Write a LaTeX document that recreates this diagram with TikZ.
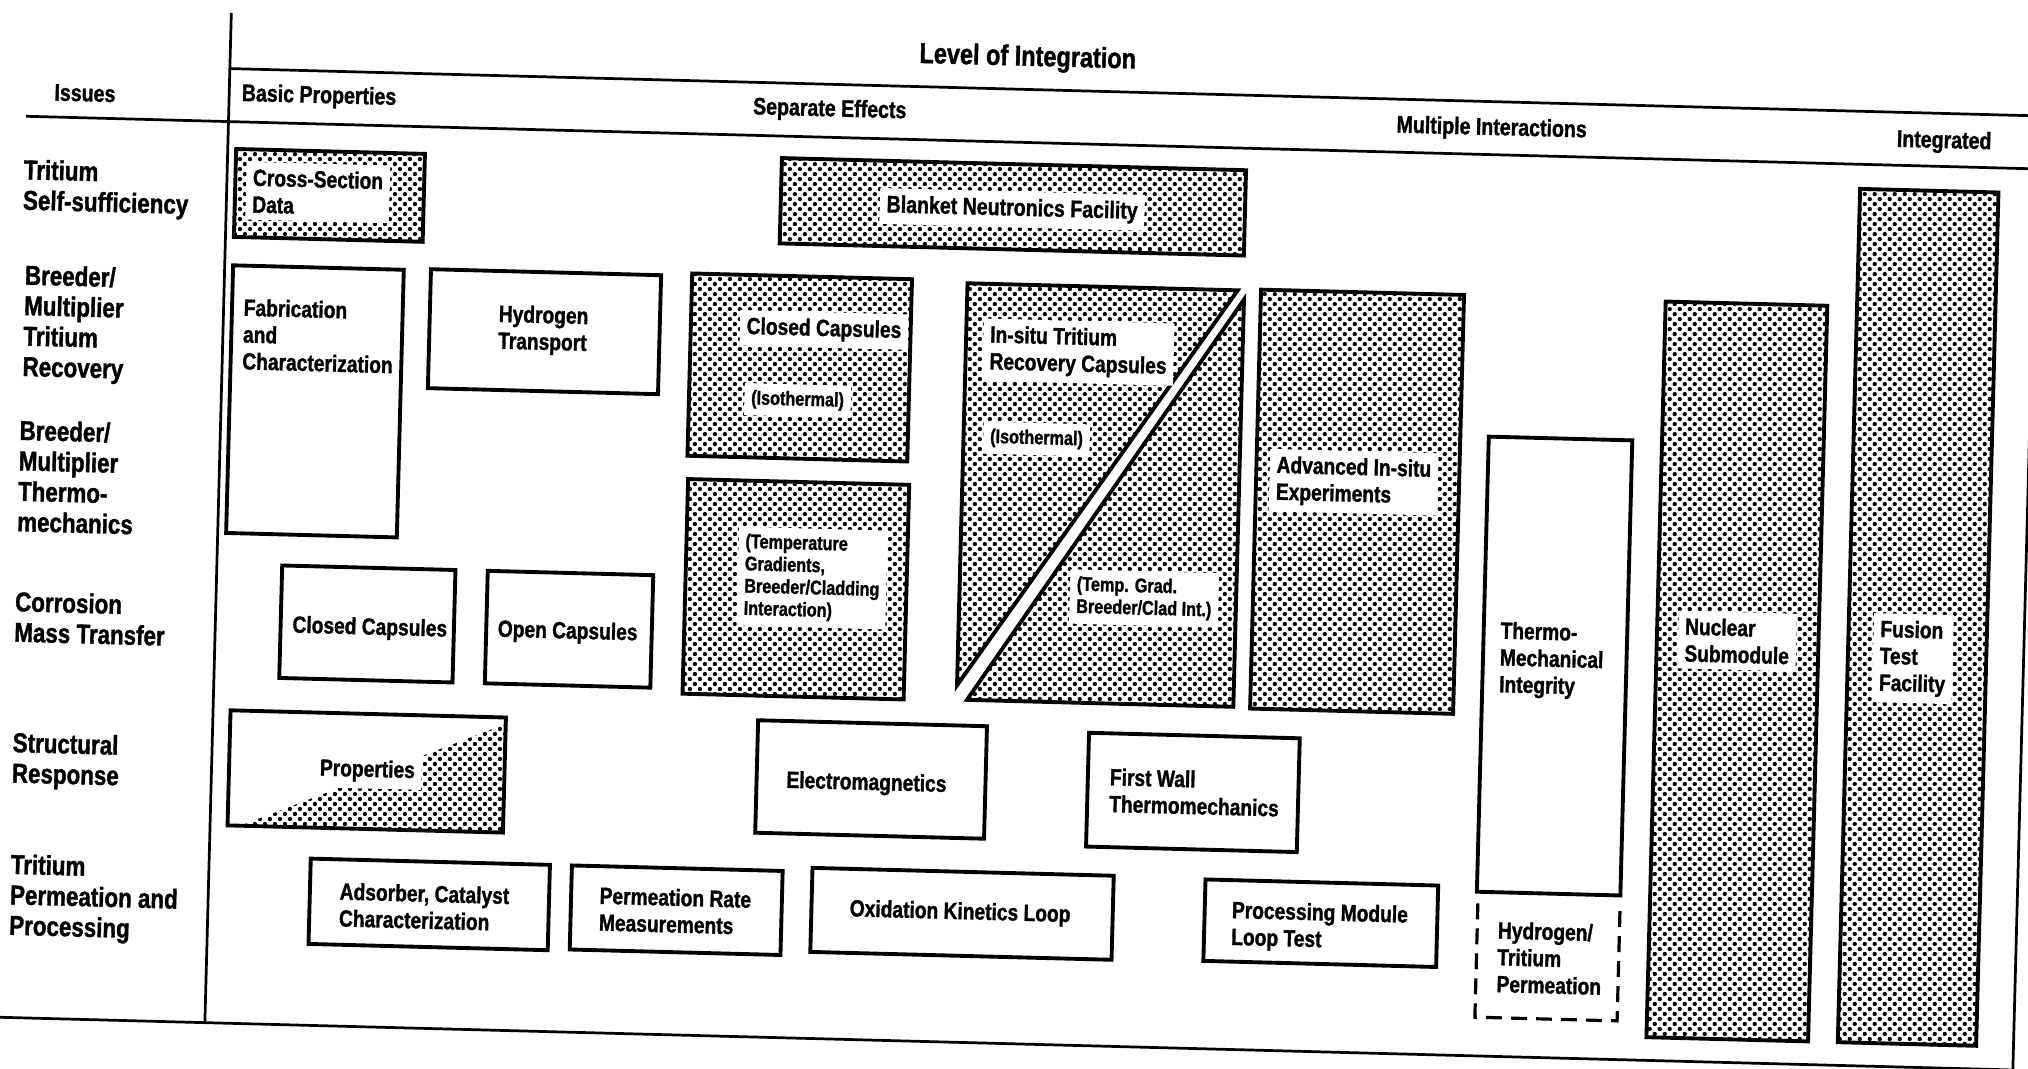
\documentclass[tikz,border=0pt]{standalone}
\usepackage{fontspec}
\setmainfont{Liberation Sans}[FakeStretch=0.82, BoldFeatures={FakeBold=1.3}]
\usetikzlibrary{patterns}
\pgfdeclarepatternformonly{halftone}{\pgfqpoint{-1.2pt}{-1.2pt}}{\pgfqpoint{3.2pt}{3.2pt}}{\pgfqpoint{4.4pt}{4.4pt}}{%
  \pgfpathcircle{\pgfqpoint{0pt}{0pt}}{0.95pt}%
  \pgfpathcircle{\pgfqpoint{2.2pt}{2.2pt}}{0.95pt}%
  \pgfusepath{fill}}
\begin{document}
\begin{tikzpicture}[x=0.02cm, y=-0.02cm,
  frame/.style={line width=1.2pt},
  box/.style={draw, line width=1.7pt},
  dotbox/.style={box, pattern=halftone},
  dashbox/.style={line width=1.4pt, dash pattern=on 7pt off 4pt},
  txt/.style={font=\bfseries\fontsize{10.3}{11.8}\selectfont, align=left, inner sep=1pt},
  sm/.style={font=\bfseries\fontsize{8.7}{9.8}\selectfont, align=left, inner sep=1pt},
  wb/.style={fill=white, inner sep=3pt},
  rowlbl/.style={font=\bfseries\fontsize{12}{13.4}\selectfont, align=left, anchor=west, inner sep=0pt},
  hdr/.style={font=\bfseries\fontsize{10.5}{12}\selectfont, inner sep=0pt}]
\fill[white] (0,0) rectangle (1568,826.5);
\useasboundingbox (0,0) rectangle (1568,826.5);
\begin{scope}[rotate around={-1.5:(784,413)}, transform shape]
% frame
\coordinate (vt) at (168.5,26);
\coordinate (vb) at (168.5,807);
\coordinate (tl) at (168.5,69);
\coordinate (tr) at (1567,69);
\coordinate (ml) at (12,110);
\coordinate (mr) at (1567,110);
\coordinate (bl) at (10,807);
\coordinate (br) at (1567,807);
\draw[frame] (vt) -- (vb);
\draw[frame] (tl) -- (tr);
\draw[frame] (ml) -- (mr);
\draw[frame] (bl) -- (br);
\draw[frame] (tr) -- (br);
% headers
\node[hdr, font=\bfseries\fontsize{12.6}{14}\selectfont] (loi) at (785,45) {Level of Integration};
\node[hdr] (iss) at (57,91) {Issues};
\node[hdr] (bp) at (238,89) {Basic Properties};
\node[hdr] (se) at (633,89) {Separate Effects};
\node[hdr] (mi) at (1145,90) {Multiple Interactions};
\node[hdr] (ig) at (1495,91) {Integrated};
% row labels
\node[rowlbl] (r1) at (11,165) {Tritium\\Self-sufficiency};
\node[rowlbl] (r2) at (14,270) {Breeder/\\Multiplier\\Tritium\\Recovery};
\node[rowlbl] (r3) at (13,388) {Breeder/\\Multiplier\\Thermo-\\mechanics};
\node[rowlbl] (r4) at (13,497) {Corrosion\\Mass Transfer};
\node[rowlbl] (r5) at (14,608) {Structural\\Response};
\node[rowlbl] (r6) at (15,714) {Tritium\\Permeation and\\Processing};
% boxes
\draw[dotbox] (175,131) rectangle (321,199);
\node[txt, wb, anchor=west] (csd) at (183,163) {Cross-Section\\Data};
\draw[dotbox] (597,127) rectangle (956,193);
\node[txt, wb, font=\bfseries\fontsize{10.5}{12}\selectfont] (bnf) at (776,162) {Blanket Neutronics Facility};
\draw[box] (175,221) rectangle (307,428);
\node[txt, anchor=west] (fab) at (182,274) {Fabrication\\and\\Characterization};
\draw[box] (328,220) rectangle (506,312);
\node[txt] (ht) at (416,265) {Hydrogen\\Transport};
\draw[dotbox] (530,218) rectangle (700,359);
\node[txt, wb] (cc1) at (633,259) {Closed Capsules};
\node[sm, wb] (iso1) at (614,314) {(Isothermal)};
\draw[dotbox] (743,220) -- (952,220) -- (743,531) -- cycle;
\draw[dotbox] (957,227) -- (957,542) -- (751,542) -- cycle;
\node[txt, wb, anchor=west] (ins) at (756,271) {In-situ Tritium\\Recovery Capsules};
\node[sm, wb, anchor=west] (iso2) at (758,339) {(Isothermal)};
\node[sm, wb, anchor=west] (tg2) at (828,460) {(Temp. Grad.\\Breeder/Clad Int.)};
\draw[dotbox] (970,219) rectangle (1127,543);
\node[txt, wb, anchor=west] (adv) at (980,366) {Advanced In-situ\\Experiments};
\draw[dotbox] (531,377) rectangle (702,543);
\node[sm, wb, anchor=west] (tg1) at (571,451) {(Temperature\\Gradients,\\Breeder/Cladding\\Interaction)};
\draw[box] (219,452) rectangle (353,539);
\node[txt] (cc2) at (288,499) {Closed Capsules};
\draw[box] (378,452) rectangle (506,539);
\node[txt] (oc) at (441,498) {Open Capsules};
\fill[pattern=halftone] (192,654) -- (395,654) -- (395,570) -- cycle;
\draw[box] (182,565) rectangle (395,654);
\node[txt, wb] (prop) at (289,609) {Properties};
\draw[box] (590,562) rectangle (767,649);
\node[txt] (em) at (675,609) {Electromagnetics};
\draw[box] (846,565) rectangle (1009,653);
\node[txt, anchor=west] (fw) at (861,609) {First Wall\\Thermomechanics};
\draw[box] (247,678) rectangle (432,744);
\node[txt, anchor=west] (ads) at (268,713) {Adsorber, Catalyst\\Characterization};
\draw[box] (449,678) rectangle (612,743);
\node[txt, anchor=west] (prm) at (469,711) {Permeation Rate\\Measurements};
\draw[box] (635,675) rectangle (868,740);
\node[txt] (oxl) at (750,707) {Oxidation Kinetics Loop};
\draw[box] (939,676) rectangle (1119,739);
\node[txt, anchor=west] (pml) at (958,711) {Processing Module\\Loop Test};
\draw[box] (1149,328) rectangle (1260,680);
\node[txt, anchor=west] (tmi) at (1160,500) {Thermo-\\Mechanical\\Integrity};
\draw[dashbox] (1150,689) -- (1150,777) -- (1260,777) -- (1260,689);
\node[txt, anchor=west] (htp) at (1164,730) {Hydrogen/\\Tritium\\Permeation};
\draw[dotbox] (1283,220) rectangle (1408,789);
\node[txt, wb, anchor=west] (nuc) at (1299,481) {Nuclear\\Submodule};
\draw[dotbox] (1431,129) rectangle (1538,789);
\node[txt, wb, anchor=west] (fus) at (1450,491) {Fusion\\Test\\Facility};
\end{scope}
\end{tikzpicture}
\end{document}
